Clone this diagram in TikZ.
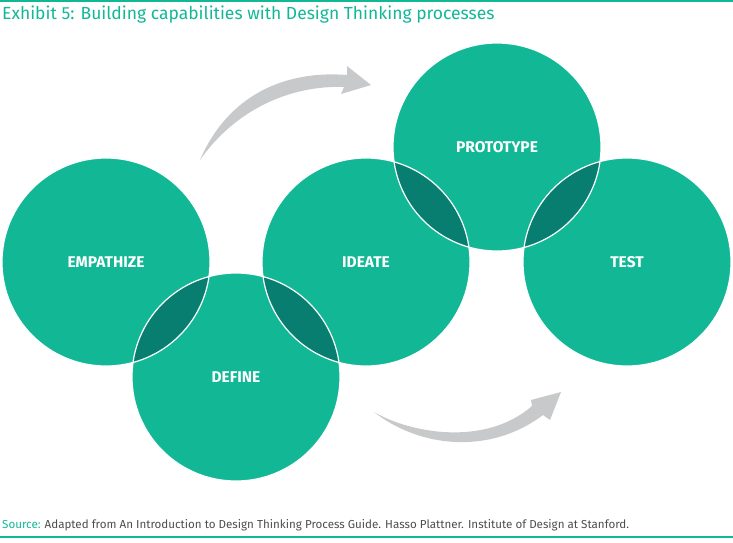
\documentclass[tikz,border=0pt]{standalone}
\usepackage{fontspec}
\setmainfont{Fira Sans}
\definecolor{dtteal}{RGB}{18,184,150}
\definecolor{dtdark}{RGB}{8,126,112}
\definecolor{dtgray}{RGB}{200,201,203}
\definecolor{dttext}{RGB}{77,77,79}
\begin{document}
\begin{tikzpicture}[x=1pt,y=-1pt,ph/.style={circle,fill=dtteal,minimum
					size=208pt,inner sep=0pt,text=white,font=\fontsize{15.5}{18}\selectfont\bfseries},
				ol/.style={draw=white,line width=1.2pt},ar/.style={fill=dtgray}]
		\useasboundingbox (0,0) rectangle (733,542);
		\draw[dtteal,line width=1.5pt] (0,1) -- (733,1);
		\draw[dtteal,line width=1.5pt] (0,537) -- (733,537);
		\node[anchor=west,inner sep=0pt,text=dtteal,font=\fontsize{17.5}{20}\selectfont] (title) at (2,15)
			{Exhibit 5: Building capabilities with Design Thinking processes};
		\node[anchor=west,inner sep=0pt,text=dttext,font=\fontsize{11.6}{13}\selectfont] (src) at (2,525)
			{\textcolor{dtteal}{Source:} Adapted from An Introduction to Design Thinking Process Guide. Hasso Plattner. Institute of Design at Stanford.};
		\node[ph] (emp) at (106,262) {EMPATHIZE};
		\node[ph] (def) at (236,377) {DEFINE};
		\node[ph] (ide) at (366,262) {IDEATE};
		\node[ph] (pro) at (497,147) {PROTOTYPE};
		\node[ph] (tes) at (627,262) {TEST};
		\foreach \a/\b in {emp/def,def/ide,ide/pro,pro/tes}{
				\begin{scope}
					\clip (\a.center) circle[radius=104];
					\fill[dtdark] (\b.center) circle[radius=104];
				\end{scope}
			}
		\foreach \n in {emp,def,ide,pro,tes}
		\draw[ol] (\n.center) circle[radius=104];
		\fill[ar] (200,160) .. controls (228,95) and (285,70) .. (347,75) -- (347,66) -- (371,85)
			-- (341,94) -- (344,87) .. controls (290,85) and (235,110) .. cycle;
		\fill[ar] (374,412) .. controls (410,433) and (485,447) .. (532,406) -- (531,400) -- (561,392)
			-- (550,420) -- (543,415) .. controls (490,455) and (420,448) .. cycle;
	\end{tikzpicture}
\end{document}
